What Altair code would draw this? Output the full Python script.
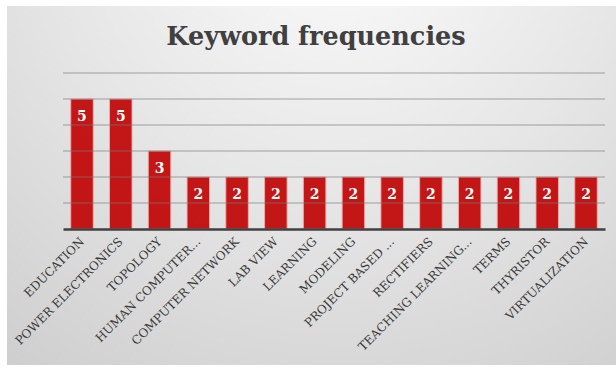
import altair as alt
import pandas as pd

keywords = ["EDUCATION", "POWER ELECTRONICS", "TOPOLOGY", "HUMAN COMPUTER...",
            "COMPUTER NETWORK", "LAB VIEW", "LEARNING", "MODELING",
            "PROJECT BASED ...", "RECTIFIERS", "TEACHING LEARNING...", "TERMS",
            "THYRISTOR", "VIRTUALIZATION"]
counts = [5, 5, 3, 2, 2, 2, 2, 2, 2, 2, 2, 2, 2, 2]
grid_values = [1, 2, 3, 4, 5, 6]
title_text = "Keyword frequencies"

df = pd.DataFrame({"keyword": keywords, "count": counts})
gdf = pd.DataFrame({"g": grid_values})

W, H = 542, 156
PL, PT, PR, PB = 63, 73, 11, 142

yscale = alt.Scale(domain=[0, 6])

xenc = alt.X("keyword:N", sort=keywords,
             scale=alt.Scale(paddingInner=0.42, paddingOuter=0.2),
             axis=alt.Axis(title=None, labelAngle=-45, labelAlign="right",
                           labelBaseline="middle", labelPadding=10,
                           labelFont="DejaVu Serif", labelFontSize=12,
                           labelColor="#3a3a3a", labelLimit=300,
                           ticks=False, domainColor="#404040",
                           domainWidth=2.5, grid=False, zindex=2))
yenc = alt.Y("count:Q", scale=yscale, axis=None)

bg = alt.Chart(alt.Data(values=[{}])).mark_rect(
    fill=alt.Gradient(gradient="radial",
                      stops=[alt.GradientStop(color="#fcfcfc", offset=0),
                             alt.GradientStop(color="#e6e6e6", offset=0.5),
                             alt.GradientStop(color="#cdcdcd", offset=1)],
                      x1=0.55, y1=0.05, r1=0, x2=0.55, y2=0.05, r2=0.95)
).encode(x=alt.value(7 - PL), x2=alt.value(616 - PL),
         y=alt.value(6 - PT), y2=alt.value(365 - PT))

bars = alt.Chart(df).mark_bar(color="#c00000", opacity=0.9, stroke="#f2a6a6",
                              strokeWidth=1, strokeOpacity=0.9).encode(x=xenc, y=yenc)

grid = alt.Chart(gdf).mark_rule(color="#7a7a7a", opacity=0.45, strokeWidth=1.3).encode(
    y=alt.Y("g:Q", scale=yscale, axis=None), x=alt.value(0), x2=alt.value(W))

labels = alt.Chart(df).mark_text(color="white", font="DejaVu Serif", fontWeight="bold",
                                 fontSize=14, baseline="middle", dy=18).encode(
    x=alt.X("keyword:N", sort=keywords), y=alt.Y("count:Q", scale=yscale), text="count:Q")

title = alt.Chart(alt.Data(values=[{"t": title_text}])).mark_text(
    font="DejaVu Serif", fontWeight="bold", fontSize=25.5, color="#404040",
    align="center", baseline="alphabetic").encode(
    x=alt.value(316 - PL), y=alt.value(45 - PT), text="t:N")

chart = alt.layer(bg, bars, grid, labels, title).properties(
    width=W, height=H,
    autosize=alt.AutoSizeParams(type="none"),
    padding={"left": PL, "top": PT, "right": PR, "bottom": PB},
    background="white",
).configure_view(stroke=None)

chart.save("out.html", embed_options={"renderer": "svg", "actions": False})
